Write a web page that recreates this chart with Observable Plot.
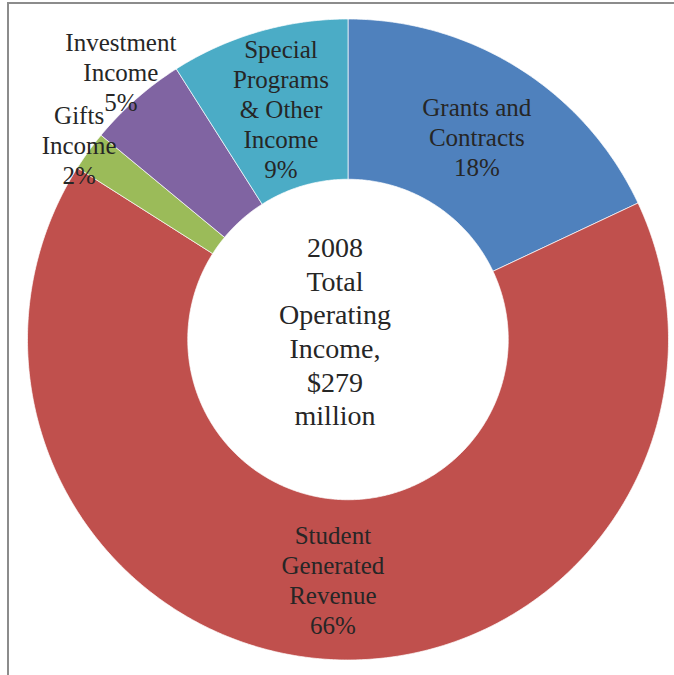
<!DOCTYPE html>
<html>
<head>
<meta charset="utf-8">
<script src="https://cdn.jsdelivr.net/npm/d3@7"></script>
<script src="https://cdn.jsdelivr.net/npm/@observablehq/plot@0.6"></script>
<style>
  html, body { margin: 0; padding: 0; background: #fff; overflow: hidden; }
  #wrap { position: relative; width: 674px; height: 675px; }
  #frame { position: absolute; left: 7px; top: 2px; width: 700px; height: 700px;
           border-left: 2px solid #8c8c8c; border-top: 2px solid #8c8c8c; pointer-events: none; }
  #chart { position: absolute; left: 0; top: 0; }
</style>
</head>
<body>
<div id="wrap"><div id="chart"></div><div id="frame"></div></div>
<script>
// ---- data ----
const categories = ["Grants and Contracts", "Student Generated Revenue", "Gifts Income", "Investment Income", "Special Programs & Other Income"];
const shares = [18, 66, 2, 5, 9];
const labelLines = [["Grants and", "Contracts"], ["Student", "Generated", "Revenue"], ["Gifts", "Income"], ["Investment", "Income"], ["Special", "Programs", "& Other", "Income"]];
const centerLines = ["2008", "Total", "Operating", "Income,", "$279", "million"];

// ---- style ----
const colors = ["#4F81BD", "#C0504D", "#9BBB59", "#8064A2", "#4BACC6"];
const innerRatio = 0.5;
const labelPlacement = { "Gifts Income": { r: 1.037, dx: 0, dy: 0 }, "Investment Income": { r: 1.1, dx: 6, dy: -4 } };
const font = "'Liberation Serif', 'Times New Roman', serif";

// ---- geometry from data ----
const total = d3.sum(shares);
const ring = [];
const labels = [];
let acc = 0;
categories.forEach((cat, i) => {
  const a0 = acc / total * 2 * Math.PI;
  const a1 = (acc + shares[i]) / total * 2 * Math.PI;
  acc += shares[i];
  const n = Math.max(2, Math.ceil((a1 - a0) / (Math.PI / 360)));
  const poly = [];
  for (let k = 0; k <= n; k++) { const a = a0 + (a1 - a0) * k / n; poly.push({ cat, x: Math.sin(a), y: Math.cos(a) }); }
  for (let k = n; k >= 0; k--) { const a = a0 + (a1 - a0) * k / n; poly.push({ cat, x: innerRatio * Math.sin(a), y: innerRatio * Math.cos(a) }); }
  poly.push(poly[0]);
  ring.push(...poly);
  const am = (a0 + a1) / 2;
  const pl = labelPlacement[cat] || { r: 0.75, dx: 0, dy: 0 };
  labels.push({ cat, x: pl.r * Math.sin(am), y: pl.r * Math.cos(am), dx: pl.dx, dy: pl.dy,
                text: [...labelLines[i], Math.round(shares[i] / total * 100) + "%"].join("\n") });
});

const textMarks = labels.map(l => Plot.text([l], {
  x: "x", y: "y", text: "text", dx: l.dx, dy: l.dy,
  fontSize: 25, lineHeight: 1.2, lineAnchor: "middle", textAnchor: "middle",
  fill: "#262626", fontFamily: font
}));

const chart = Plot.plot({
  width: 674, height: 675,
  marginLeft: 27, marginRight: 6, marginTop: 18.5, marginBottom: 15.5,
  x: { domain: [-1, 1], axis: null },
  y: { domain: [-1, 1], axis: null },
  color: { domain: categories, range: colors },
  style: { fontFamily: font, background: "transparent" },
  marks: [
    Plot.line(ring, { x: "x", y: "y", z: "cat", fill: "cat", stroke: "white", strokeWidth: 0.7, curve: "linear" }),
    ...textMarks,
    Plot.text([centerLines.join("\n")], {
      x: () => 0, y: () => 0, text: d => d, dx: -13, dy: -9,
      fontSize: 28, lineHeight: 1.2, lineAnchor: "middle", textAnchor: "middle",
      fill: "#262626", fontFamily: font
    })
  ]
});
document.getElementById("chart").appendChild(chart);
</script>
</body>
</html>
